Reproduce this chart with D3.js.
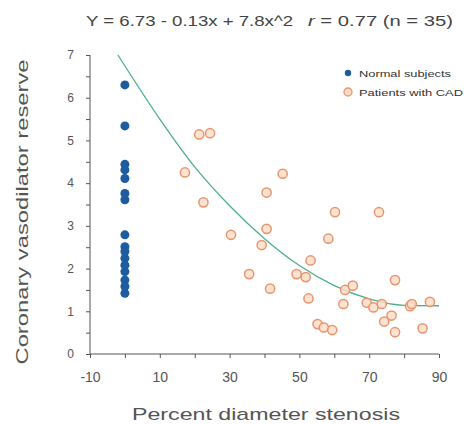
<!DOCTYPE html>
<html>
<head>
<meta charset="utf-8">
<script src="https://cdn.jsdelivr.net/npm/d3@7"></script>
<style>
  body { margin: 0; background: #fff; }
  svg { font-family: "Liberation Sans", Arial, sans-serif; }
  .axis path, .axis line { stroke: #555; }
  .axis text { fill: #555; }
</style>
</head>
<body>
<svg width="464" height="424"></svg>
<script>
// normal subjects, all at 0% stenosis
var normalX = [0,0,0,0,0,0,0,0,0,0,0,0,0,0,0,0];
var normalY = [6.30,5.34,4.44,4.31,4.11,3.76,3.61,2.79,2.51,2.40,2.24,2.08,1.93,1.73,1.58,1.42];

// patients with CAD (n = 35)
var cadX = [21.3,24.4,17.2,22.5,45.2,40.6,30.4,40.6,39.2,35.6,41.6,60.2,72.8,58.3,53.2,49.2,51.8,52.6,
            63.1,65.3,62.6,77.4,69.3,71.2,73.6,81.7,82.2,87.4,76.4,74.3,77.4,85.3,55.2,57.0,59.4];
var cadY = [5.14,5.17,4.25,3.55,4.22,3.78,2.79,2.93,2.55,1.87,1.53,3.32,3.32,2.70,2.19,1.87,1.80,1.30,
            1.50,1.60,1.17,1.73,1.20,1.09,1.17,1.12,1.17,1.22,0.90,0.76,0.51,0.60,0.70,0.62,0.56];

// fitted curve
var fitX = [-2,10,20,30,40,50,60,70,80,90];
var fitY = [7.0,5.5,4.38,3.47,2.7,2.07,1.6,1.29,1.14,1.13];

var xTicks = [-10,0,10,20,30,40,50,60,70,80,90];
var xLabels = [-10,10,30,50,70,90];
var yTicks = [0,0.5,1,1.5,2,2.5,3,3.5,4,4.5,5,5.5,6,6.5,7];
var yLabels = [0,1,2,3,4,5,6,7];

var blue = "#1d5c9e";
var orange = "#e8956c";
var peach = "#fcdcc8";
var green = "#4fae8c";

var svg = d3.select("svg");

var x = d3.scaleLinear().domain([-10, 90]).range([90, 439]);
var y = d3.scaleLinear().domain([0, 7]).range([354, 55]);

// axes
var xAxis = d3.axisBottom(x)
    .tickValues(xTicks)
    .tickSize(4)
    .tickFormat(d => xLabels.indexOf(d) >= 0 ? d : "");
svg.append("g")
    .attr("class", "axis")
    .attr("transform", "translate(0,354)")
    .call(xAxis)
    .call(g => g.selectAll("text").attr("y", 18).attr("dy", "0.71em").attr("font-size", 14))
    .call(g => g.select(".domain").attr("d", "M90,0H439"));

var yAxis = d3.axisLeft(y)
    .tickValues(yTicks)
    .tickSize(4)
    .tickFormat(d => yLabels.indexOf(d) >= 0 ? d : "");
svg.append("g")
    .attr("class", "axis")
    .attr("transform", "translate(90,0)")
    .call(yAxis)
    .call(g => g.selectAll("text").attr("x", -16).attr("font-size", 12))
    .call(g => g.select(".domain").attr("d", "M0,55V354"));

// fitted curve
var line = d3.line()
    .x(d => x(d[0]))
    .y(d => y(d[1]))
    .curve(d3.curveMonotoneX);

svg.append("path")
    .datum(d3.zip(fitX, fitY))
    .attr("d", line)
    .attr("fill", "none")
    .attr("stroke", green)
    .attr("stroke-width", 1.3);

// normal subjects
svg.append("g").selectAll("circle")
    .data(d3.zip(normalX, normalY))
    .enter().append("circle")
    .attr("cx", d => x(d[0]))
    .attr("cy", d => y(d[1]))
    .attr("r", 4.5)
    .attr("fill", blue);

// CAD patients
svg.append("g").selectAll("circle")
    .data(d3.zip(cadX, cadY))
    .enter().append("circle")
    .attr("cx", d => x(d[0]))
    .attr("cy", d => y(d[1]))
    .attr("r", 4.6)
    .attr("fill", peach)
    .attr("fill-opacity", 0.8)
    .attr("stroke", orange)
    .attr("stroke-width", 1.5);

// legend
var legend = svg.append("g").attr("transform", "translate(348,73)");
legend.append("circle").attr("r", 3.2).attr("fill", blue);
legend.append("text").attr("x", 11).attr("y", 3.5)
    .attr("font-size", 9.5).attr("fill", "#333")
    .attr("textLength", 92).attr("lengthAdjust", "spacingAndGlyphs")
    .text("Normal subjects");
legend.append("circle").attr("cy", 19).attr("r", 4)
    .attr("fill", peach).attr("stroke", orange).attr("stroke-width", 1.3);
legend.append("text").attr("x", 11).attr("y", 22.5)
    .attr("font-size", 9.5).attr("fill", "#333")
    .attr("textLength", 104).attr("lengthAdjust", "spacingAndGlyphs")
    .text("Patients with CAD");

// title
svg.append("text")
    .attr("x", 86).attr("y", 26)
    .attr("font-size", 15).attr("fill", "#444")
    .attr("textLength", 207).attr("lengthAdjust", "spacingAndGlyphs")
    .text("Y = 6.73 - 0.13x + 7.8x^2");
var stat = svg.append("text")
    .attr("x", 308).attr("y", 26)
    .attr("font-size", 15).attr("fill", "#444")
    .attr("textLength", 145).attr("lengthAdjust", "spacingAndGlyphs");
stat.append("tspan").attr("font-style", "italic").text("r");
stat.append("tspan").text(" = 0.77  (n = 35)");

// axis labels
svg.append("text")
    .attr("x", 266).attr("y", 420)
    .attr("text-anchor", "middle")
    .attr("font-size", 17).attr("fill", "#555")
    .attr("textLength", 268).attr("lengthAdjust", "spacingAndGlyphs")
    .text("Percent diameter stenosis");

svg.append("text")
    .attr("transform", "translate(28,212) rotate(-90)")
    .attr("text-anchor", "middle")
    .attr("font-size", 17).attr("fill", "#555")
    .attr("textLength", 305).attr("lengthAdjust", "spacingAndGlyphs")
    .text("Coronary vasodilator reserve");
</script>
</body>
</html>
